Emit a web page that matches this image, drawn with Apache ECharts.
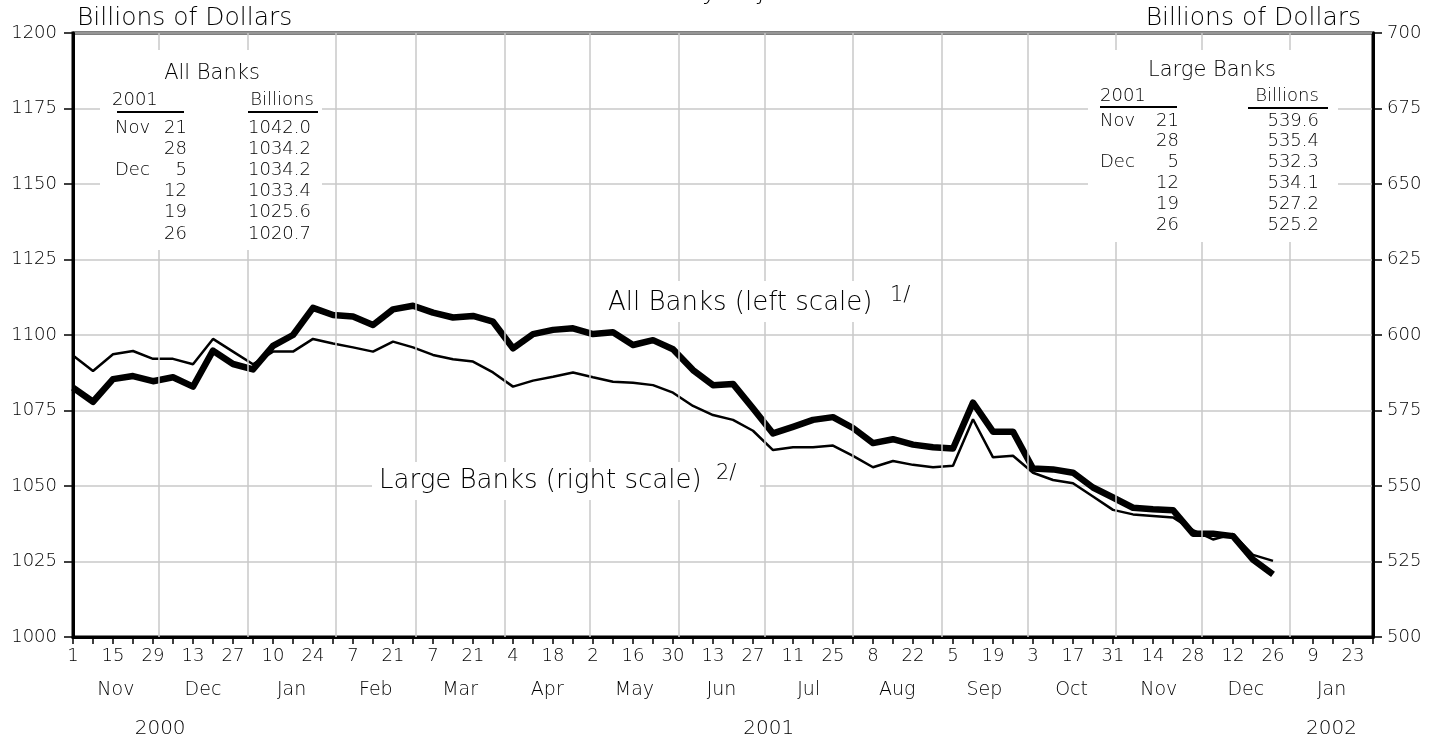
<!DOCTYPE html>
<html>
<head>
<meta charset="utf-8">
<script src="https://cdn.jsdelivr.net/npm/echarts@6/dist/echarts.min.js"></script>
<style>
  html, body { margin: 0; padding: 0; background: #fff; }
  #main { width: 1451px; height: 738px; }
</style>
</head>
<body>
<div id="main"></div>
<script>
// weekly figures, Wednesdays from Nov 1 2000 to Dec 26 2001
let allBanks = [
    1082.6, 1077.9, 1085.4, 1086.4, 1084.7, 1086.0, 1082.9, 1094.8, 1090.4, 1088.6,
    1096.4, 1100.0, 1109.0, 1106.6, 1106.1, 1103.3, 1108.5, 1109.7, 1107.4, 1105.8,
    1106.3, 1104.4, 1095.6, 1100.3, 1101.7, 1102.2, 1100.3, 1100.9, 1096.7, 1098.3,
    1095.3, 1088.4, 1083.4, 1083.8, 1075.7, 1067.4, 1069.6, 1071.9, 1072.8, 1069.2,
    1064.2, 1065.5, 1063.7, 1062.8, 1062.4, 1077.6, 1068.0, 1068.0, 1055.8, 1055.5,
    1054.4, 1049.5, 1046.2, 1042.8, 1042.3, 1042.0, 1034.2, 1034.2, 1033.4, 1025.6,
    1020.7
];
let largeBanks = [
    593.2, 588.1, 593.6, 594.7, 592.1, 592.1, 590.3, 598.7, 594.5, 590.3,
    594.5, 594.5, 598.7, 597.2, 595.9, 594.5, 597.8, 595.9, 593.4, 592.0,
    591.2, 587.6, 582.9, 584.9, 586.2, 587.6, 586.0, 584.5, 584.2, 583.4,
    580.9, 576.5, 573.5, 571.9, 568.3, 561.9, 562.8, 562.8, 563.4, 560.0,
    556.2, 558.3, 557.0, 556.2, 556.7, 572.1, 559.5, 560.0, 554.4, 552.0,
    550.9, 546.5, 542.1, 540.6, 540.1, 539.6, 535.4, 532.3, 534.1, 527.2,
    525.2
];
let months = ['Nov', 'Dec', 'Jan', 'Feb', 'Mar', 'Apr', 'May', 'Jun', 'Jul', 'Aug', 'Sep', 'Oct', 'Nov', 'Dec', 'Jan'];
let years = ['2000', '2001', '2002'];
let tableDates = [['Nov', '21'], ['', '28'], ['Dec', '5'], ['', '12'], ['', '19'], ['', '26']];
let allBanksTable = ['1042.0', '1034.2', '1034.2', '1033.4', '1025.6', '1020.7'];
let largeBanksTable = ['539.6', '535.4', '532.3', '534.1', '527.2', '525.2'];

const font = 'DejaVu Sans';
const weight = 200;
const startMs = Date.UTC(2000, 10, 1);
const dayMs = 86400000;
const lastDay = 455; // Jan 30 2002, end of the axis

// x values are days after Nov 1 2000
function toDay(y, m, d) {
    return Math.round((Date.UTC(y, m, d) - startMs) / dayMs);
}
let allData = allBanks.map((v, i) => [i * 7, v]);
let largeData = largeBanks.map((v, i) => [i * 7, v]);

// month starts for the vertical grid lines
let monthStarts = [];
for (let k = 0; k <= months.length; k++) {
    monthStarts.push(toDay(2000, 10 + k, 1));
}

var myChart = echarts.init(document.getElementById('main'));

var labelStyle = { color: '#000', fontFamily: font, fontWeight: weight, fontSize: 18 };

var option = {
    animation: false,
    grid: { left: 73, right: 78, top: 33, bottom: 101, show: true, borderColor: '#000', borderWidth: 3 },
    xAxis: {
        type: 'value', min: 0, max: lastDay, interval: 7,
        axisLine: { lineStyle: { color: '#000', width: 3 } },
        axisTick: { length: 7, lineStyle: { color: '#000', width: 1.5 } },
        splitLine: { show: false },
        axisLabel: Object.assign({}, labelStyle, {
            margin: 10,
            formatter: (v) => {
                let w = Math.round(v / 7);
                if (w % 2) return '';
                return String(new Date(startMs + v * dayMs).getUTCDate());
            }
        })
    },
    yAxis: [
        {
            type: 'value', min: 1000, max: 1200, interval: 25, position: 'left',
            axisLine: { show: true, lineStyle: { color: '#000', width: 3 } },
            axisTick: { show: true, length: 9, lineStyle: { color: '#000', width: 1.5 } },
            splitLine: { lineStyle: { color: '#c8c8c8', width: 1.5 } },
            axisLabel: Object.assign({}, labelStyle, { margin: 16, formatter: (v) => String(v) })
        },
        {
            type: 'value', min: 500, max: 700, interval: 25, position: 'right',
            axisLine: { show: true, lineStyle: { color: '#000', width: 3 } },
            axisTick: { show: true, length: 9, lineStyle: { color: '#000', width: 1.5 } },
            splitLine: { show: false },
            axisLabel: Object.assign({}, labelStyle, { margin: 14, formatter: (v) => String(v) })
        }
    ],
    series: [
        {
            // only carries the month grid lines
            type: 'line', data: [], z: 1, silent: true,
            markLine: {
                silent: true, symbol: ['none', 'none'], label: { show: false },
                lineStyle: { color: '#c8c8c8', width: 1.5, type: 'solid' },
                emphasis: { disabled: true },
                data: monthStarts.slice(1, months.length).map((d) => ({ xAxis: d }))
            }
        },
        {
            name: 'Large Banks', type: 'line', yAxisIndex: 1, data: largeData, z: 3,
            showSymbol: false, lineStyle: { color: '#000', width: 2.5 }
        },
        {
            name: 'All Banks', type: 'line', yAxisIndex: 0, data: allData, z: 4,
            showSymbol: false, lineStyle: { color: '#000', width: 6.5, join: 'round' }
        }
    ]
};
myChart.setOption(option);

// texts, tables and boxes
function txt(text, x, y, size, align, vAlign) {
    return {
        type: 'text', x: x, y: y, z: 20,
        style: {
            text: text, fill: '#000', fontFamily: font, fontWeight: weight, fontSize: size,
            align: align || 'left', verticalAlign: vAlign || 'middle'
        }
    };
}
function box(x, y, w, h) {
    return { type: 'rect', z: 10, shape: { x: x, y: y, width: w, height: h }, style: { fill: '#fff' } };
}
function rule(x1, x2, y) {
    return { type: 'line', z: 20, shape: { x1: x1, y1: y, x2: x2, y2: y }, style: { stroke: '#000', lineWidth: 2 } };
}

let graphics = [];
// title sits above the picture, only its descenders show
graphics.push(txt('Seasonally Adjusted', 582, 5, 25, 'left', 'bottom'));
graphics.push(txt('Billions of Dollars', 77, 18, 25, 'left'));
graphics.push(txt('Billions of Dollars', 1361, 18, 25, 'right'));

// All Banks table
graphics.push(box(100, 50, 222, 200));
graphics.push(txt('All Banks', 212, 74, 21, 'center'));
graphics.push(txt('2001', 112, 100, 18, 'left'));
graphics.push(txt('Billions', 282, 100, 18, 'center'));
graphics.push(rule(117, 184, 112));
graphics.push(rule(248, 318, 112));
tableDates.forEach((d, i) => {
    let y = 128 + i * 21.2;
    graphics.push(txt(d[0], 115, y, 18, 'left'));
    graphics.push(txt(d[1], 187, y, 18, 'right'));
    graphics.push(txt(allBanksTable[i], 311, y, 18, 'right'));
});

// Large Banks table
graphics.push(box(1088, 50, 250, 192));
graphics.push(txt('Large Banks', 1212, 71, 21, 'center'));
graphics.push(txt('2001', 1100, 96, 18, 'left'));
graphics.push(txt('Billions', 1287, 96, 18, 'center'));
graphics.push(rule(1100, 1177, 107));
graphics.push(rule(1248, 1328, 108));
tableDates.forEach((d, i) => {
    let y = 121 + i * 20.8;
    graphics.push(txt(d[0], 1100, y, 18, 'left'));
    graphics.push(txt(d[1], 1179, y, 18, 'right'));
    graphics.push(txt(largeBanksTable[i], 1319, y, 18, 'right'));
});

// series labels
graphics.push(box(600, 281, 325, 41));
graphics.push(txt('All Banks (left scale)', 608, 303, 26, 'left'));
graphics.push(txt('1/', 890, 296, 21, 'left'));
graphics.push(box(372, 462, 388, 38));
graphics.push(txt('Large Banks (right scale)', 379, 481, 26, 'left'));
graphics.push(txt('2/', 716, 474, 21, 'left'));

// month and year names centred on the visible part of each period
months.forEach((m, k) => {
    let a = Math.max(monthStarts[k], 0);
    let b = Math.min(monthStarts[k + 1], lastDay);
    let x = myChart.convertToPixel({ xAxisIndex: 0 }, (a + b) / 2);
    graphics.push(txt(m, x, 690, 19, 'center'));
});
let yearStarts = [0, toDay(2001, 0, 1), toDay(2002, 0, 1), lastDay];
years.forEach((yr, k) => {
    let x = myChart.convertToPixel({ xAxisIndex: 0 }, (yearStarts[k] + yearStarts[k + 1]) / 2);
    graphics.push(txt(yr, x, 729, 20, 'center'));
});

myChart.setOption({ graphic: graphics });
</script>
</body>
</html>
